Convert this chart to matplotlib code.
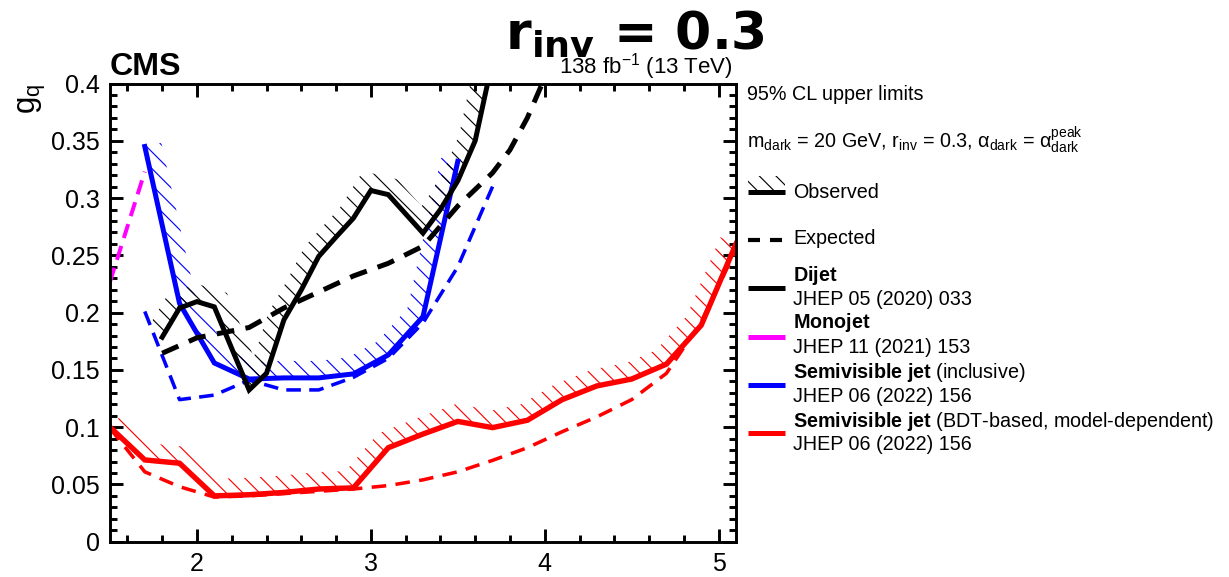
import numpy as np
import matplotlib
matplotlib.use('Agg')
import matplotlib.pyplot as plt
from matplotlib.patches import Polygon
from matplotlib.ticker import MultipleLocator, FuncFormatter

plt.rcParams['font.family'] = ['Liberation Sans', 'DejaVu Sans']
plt.rcParams['mathtext.fontset'] = 'custom'
plt.rcParams['mathtext.rm'] = 'Liberation Sans'
plt.rcParams['mathtext.it'] = 'Liberation Sans:italic'
plt.rcParams['mathtext.bf'] = 'Liberation Sans:bold'
plt.rcParams['hatch.linewidth'] = 0.55
plt.rcParams['lines.scale_dashes'] = False

# mediator mass [TeV] vs. g_q limits
dijet_obs_x = [1.8, 1.9, 2.0, 2.1, 2.3, 2.4, 2.5, 2.6, 2.7, 2.8, 2.9, 3.0, 3.1, 3.3, 3.4, 3.5, 3.6, 3.7]
dijet_obs_y = [0.1785, 0.204, 0.2096, 0.205, 0.1325, 0.147, 0.1936, 0.2198, 0.249, 0.266, 0.2825,
               0.3066, 0.303, 0.2694, 0.29, 0.315, 0.35, 0.42]
dijet_exp_x = [1.8, 2.0, 2.2, 2.3, 2.5, 2.7, 2.9, 3.1, 3.3, 3.5, 3.7, 3.8, 3.9, 4.0]
dijet_exp_y = [0.1645, 0.178, 0.184, 0.187, 0.204, 0.218, 0.232, 0.243, 0.258, 0.293, 0.322, 0.342, 0.37, 0.405]

monojet_x = [1.5, 1.6, 1.7]
monojet_y = [0.227, 0.275, 0.323]

svj_obs_x = [1.7, 1.9, 2.1, 2.3, 2.5, 2.7, 2.9, 3.1, 3.3, 3.5]
svj_obs_y = [0.345, 0.208, 0.156, 0.142, 0.143, 0.143, 0.1465, 0.163, 0.1965, 0.332]
svj_exp_x = [1.7, 1.9, 2.1, 2.3, 2.5, 2.7, 2.9, 3.1, 3.3, 3.5, 3.7]
svj_exp_y = [0.201, 0.124, 0.128, 0.141, 0.1325, 0.1325, 0.1435, 0.16, 0.191, 0.240, 0.310]

bdt_x = [1.5, 1.7, 1.9, 2.1, 2.3, 2.5, 2.7, 2.9, 3.1, 3.3, 3.5, 3.7, 3.9, 4.1, 4.3, 4.5, 4.7, 4.9, 5.1]
bdt_obs_y = [0.100, 0.0714, 0.0685, 0.040, 0.041, 0.043, 0.046, 0.047, 0.082, 0.094, 0.105, 0.0996,
             0.106, 0.124, 0.136, 0.142, 0.155, 0.189, 0.260]
bdt_exp_y = [0.099, 0.061, 0.048, 0.039, 0.040, 0.042, 0.044, 0.046, 0.049, 0.054, 0.061, 0.071,
             0.082, 0.096, 0.109, 0.124, 0.147, 0.192, 0.255]

W, H, DPI = 1229, 577, 150
HATCH = '\\\\\\'
fig = plt.figure(figsize=(W / DPI, H / DPI), dpi=DPI)
ax = fig.add_axes([110 / W, 1 - 541.7 / H, 626 / W, (541.7 - 83.5) / H])
ax.set_xlim(1.5, 5.1)
ax.set_ylim(0, 0.4)
ax.xaxis.set_major_locator(MultipleLocator(1))
ax.xaxis.set_minor_locator(MultipleLocator(0.2))
ax.yaxis.set_major_locator(MultipleLocator(0.05))
ax.yaxis.set_minor_locator(MultipleLocator(0.01))
ax.yaxis.set_major_formatter(FuncFormatter(lambda v, p: '%g' % round(v, 3)))
ax.xaxis.set_major_formatter(FuncFormatter(lambda v, p: '%g' % v))
ax.tick_params(which='both', direction='in', top=True, right=True, labelsize=12, width=1.4, pad=4.8)
ax.tick_params(which='major', length=6.2)
ax.tick_params(which='minor', length=3.2)
for s in ax.spines.values():
    s.set_linewidth(1.4)


def hatch_band(ax, x, y, color, width=17):
    # hatched strip on the excluded (left-of-travel) side of a limit curve
    pts = ax.transData.transform(np.column_stack([x, y]))
    seg = np.diff(pts, axis=0)
    seg = seg / np.hypot(seg[:, 0], seg[:, 1])[:, None]
    nrm = np.column_stack([-seg[:, 1], seg[:, 0]])
    vn = np.vstack([nrm[:1], nrm[:-1] + nrm[1:], nrm[-1:]])
    vn = vn / np.hypot(vn[:, 0], vn[:, 1])[:, None]
    cos = np.ones(len(pts))
    cos[1:-1] = np.clip(np.sum(vn[1:-1] * nrm[:-1], axis=1), 0.5, 1)
    off = pts + width * vn / cos[:, None]
    poly = np.vstack([pts, off[::-1]])
    ax.add_patch(Polygon(ax.transData.inverted().transform(poly), closed=True,
                         facecolor='none', edgecolor=color, lw=0, hatch=HATCH))


hatch_band(ax, bdt_x, bdt_obs_y, 'red')
hatch_band(ax, svj_obs_x, svj_obs_y, 'blue')
hatch_band(ax, dijet_obs_x, dijet_obs_y, 'black')

ax.plot(monojet_x, monojet_y, color='magenta', lw=1.9, ls=(0, (7, 4)), dash_capstyle='butt')
ax.plot(svj_exp_x, svj_exp_y, color='blue', lw=1.7, ls=(0, (7, 4)), dash_capstyle='butt')
ax.plot(svj_obs_x, svj_obs_y, color='blue', lw=2.4, solid_joinstyle='miter')
ax.plot(bdt_x, bdt_exp_y, color='red', lw=1.7, ls=(0, (7, 4.5)), dash_capstyle='butt')
ax.plot(bdt_x, bdt_obs_y, color='red', lw=2.6, solid_joinstyle='miter')
ax.plot(dijet_exp_x, dijet_exp_y, color='black', lw=2.4, ls=(0, (8.5, 5.5)), dash_capstyle='butt')
ax.plot(dijet_obs_x, dijet_obs_y, color='black', lw=2.4, solid_joinstyle='miter')

# overlay in pixel coordinates for labels and legend
ov = fig.add_axes([0, 0, 1, 1])
ov.set_xlim(0, W)
ov.set_ylim(H, 0)
ov.axis('off')

ov.text(110, 75, 'CMS', fontsize=15.4, fontweight='bold', va='baseline')
ov.text(733, 74, r'138 fb$^{-1}$ (13 TeV)', fontsize=10.7, ha='right', va='baseline')
ov.text(32, 84, r'$\mathrm{g_q}$', fontsize=15, rotation=90, ha='center', va='top')
ov.text(635, 50, r'$\mathbf{r_{inv}}$ = 0.3', fontsize=25, fontweight='bold', family='DejaVu Sans',
        math_fontfamily='dejavusans', ha='center', va='baseline')

fs = 9.5
ov.text(747, 100, '95% CL upper limits', fontsize=fs, va='baseline')
ov.text(747, 148, r'$\mathrm{m_{dark}}$ = 20 GeV, $\mathrm{r_{inv}}$ = 0.3, '
        r'$\mathrm{\alpha_{dark}}$ = $\mathrm{\alpha^{peak}_{dark}}$', fontsize=fs, va='baseline')

lx0, lx1, tx = 748, 785, 793
ov.add_patch(Polygon([(lx0, 191.7), (lx1, 191.7), (lx1, 176), (lx0, 176)], closed=True,
                     facecolor='none', edgecolor='black', lw=0, hatch=HATCH))
ov.plot([lx0, lx1], [191.7, 191.7], color='black', lw=2.4, solid_capstyle='butt')
ov.text(tx, 198, 'Observed', fontsize=fs, va='baseline')
ov.plot([lx0, 782], [240, 240], color='black', lw=2.0, ls=(0, (5.76, 4.8)), dash_capstyle='butt')
ov.text(tx, 244, 'Expected', fontsize=fs, va='baseline')

entries = [
    ('black', 288, r'$\mathbf{Dijet}$', 280.7, 'JHEP 05 (2020) 033', 305),
    ('magenta', 337, r'$\mathbf{Monojet}$', 328, 'JHEP 11 (2021) 153', 353.3),
    ('blue', 385, r'$\mathbf{Semivisible\ jet}$ (inclusive)', 378.3, 'JHEP 06 (2022) 156', 401.7),
    ('red', 433, r'$\mathbf{Semivisible\ jet}$ (BDT-based, model-dependent)', 426.7,
     'JHEP 06 (2022) 156', 450),
]
for col, ly, name, ny, ref, ry in entries:
    ov.plot([lx0, lx1], [ly, ly], color=col, lw=2.4, solid_capstyle='butt')
    ov.text(tx, ny, name, fontsize=fs, va='baseline')
    ov.text(tx, ry, ref, fontsize=fs, va='baseline')

fig.savefig('out.png', dpi=DPI)
